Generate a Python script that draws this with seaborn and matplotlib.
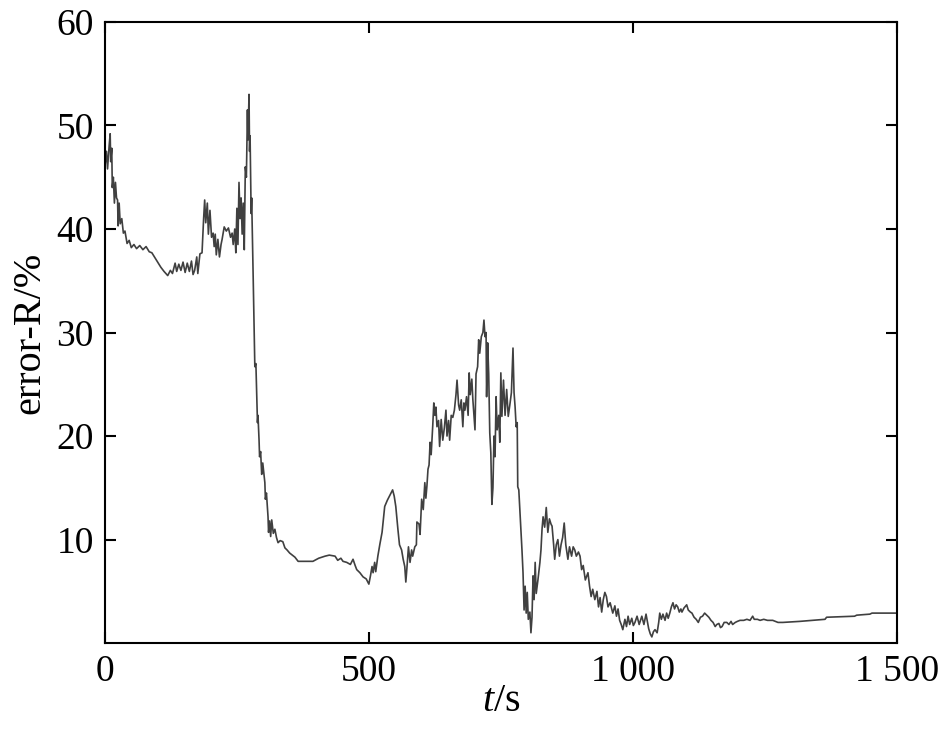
import matplotlib
matplotlib.use("Agg")
import matplotlib.pyplot as plt
import numpy as np
import pandas as pd
import seaborn as sns

# valores (t em s, erro em %)
t = [0, 3, 5, 8, 10, 11, 13, 14, 16, 18, 20, 22, 24, 25, 27, 29, 32, 35, 38, 42,
     46, 50, 55, 60, 66, 72, 78, 84, 89, 95, 100, 106, 112, 119, 124, 128, 133, 136, 140, 144,
     148, 152, 156, 160, 164, 167, 170, 174, 176, 180, 184, 187, 189, 191, 194, 196, 199, 202, 205, 207,
     209, 211, 214, 217, 220, 222, 226, 230, 234, 238, 241, 243, 246, 248, 250, 252, 254, 256, 258, 260,
     262, 264, 266, 268, 270, 271, 273, 274, 275, 277, 278, 279, 281, 284, 286, 288, 289, 290, 292, 293,
     295, 297, 299, 303, 304, 306, 309, 310, 312, 314, 316, 319, 322, 325, 328, 332, 337, 341, 345, 350,
     355, 360, 366, 380, 394, 405, 417, 425, 436, 441, 447, 451, 458, 465, 470, 474, 477, 483, 489, 495,
     500, 503, 506, 508, 511, 513, 517, 521, 525, 530, 535, 540, 545, 548, 551, 555, 558, 562, 565, 568,
     570, 572, 575, 578, 581, 583, 587, 590, 591, 595, 597, 600, 603, 606, 608, 610, 612, 614, 616, 618,
     621, 623, 625, 627, 629, 632, 634, 637, 640, 643, 646, 648, 651, 653, 656, 659, 662, 665, 667, 670,
     672, 675, 678, 680, 682, 685, 688, 690, 692, 695, 697, 699, 701, 703, 706, 708, 710, 713, 716, 718,
     720, 722, 723, 725, 727, 729, 731, 733, 735, 737, 739, 741, 743, 746, 748, 750, 752, 755, 758, 761,
     764, 767, 770, 773, 775, 777, 779, 781, 782, 784, 787, 790, 792, 794, 796, 798, 800, 802, 805, 807,
     809, 811, 813, 815, 817, 820, 824, 826, 828, 830, 833, 836, 839, 842, 845, 847, 850, 852, 855, 858,
     861, 864, 867, 870, 873, 877, 880, 884, 887, 890, 893, 897, 900, 903, 906, 910, 915, 918, 921, 924,
     928, 932, 935, 938, 941, 944, 947, 950, 953, 957, 962, 966, 969, 972, 975, 978, 981, 985, 988, 991,
     994, 998, 1001, 1004, 1008, 1012, 1017, 1021, 1025, 1030, 1033, 1036, 1039, 1042, 1046, 1049, 1051, 1054, 1057, 1061,
     1064, 1067, 1070, 1073, 1076, 1079, 1082, 1085, 1088, 1091, 1093, 1097, 1102, 1105, 1109, 1112, 1116, 1120, 1124, 1128,
     1132, 1136, 1140, 1144, 1148, 1152, 1156, 1159, 1163, 1166, 1169, 1173, 1178, 1182, 1186, 1189, 1194, 1198, 1203, 1210,
     1216, 1222, 1227, 1230, 1236, 1241, 1248, 1255, 1265, 1275, 1284, 1316, 1364, 1367, 1420, 1424, 1449, 1453, 1500]

erro = [46.0, 47.5, 45.8, 48.0, 49.2, 46.5, 47.8, 44.0, 45.0, 42.5, 44.5, 43.0, 42.8, 40.3, 42.5, 40.5, 41.0, 39.6, 39.8, 38.6,
        38.9, 38.2, 38.5, 38.1, 38.4, 38.0, 38.3, 37.8, 37.7, 37.2, 36.8, 36.3, 35.9, 35.5, 36.0, 35.7, 36.7, 35.9, 36.6, 36.0,
        36.8, 35.8, 36.7, 35.9, 36.9, 35.6, 36.0, 37.3, 35.7, 37.6, 37.7, 41.0, 42.8, 40.6, 42.5, 39.5, 41.8, 39.2, 39.6, 38.3,
        39.5, 37.5, 39.0, 37.3, 38.5, 39.0, 40.2, 39.8, 40.1, 39.2, 39.6, 38.5, 40.0, 37.7, 42.0, 38.5, 44.5, 41.0, 43.0, 39.5,
        42.5, 38.0, 46.0, 45.0, 51.5, 48.6, 53.0, 47.5, 49.0, 41.5, 43.0, 40.5, 35.0, 26.7, 27.0, 23.2, 21.3, 22.0, 19.6, 18.0,
        18.5, 16.3, 17.4, 15.5, 13.9, 14.5, 12.2, 10.7, 11.8, 10.3, 11.9, 10.6, 11.0, 10.2, 9.7, 9.9, 9.8, 9.2, 9.0, 8.7,
        8.5, 8.3, 7.9, 7.9, 7.9, 8.2, 8.4, 8.5, 8.4, 8.0, 8.2, 7.9, 7.8, 7.6, 8.1, 7.5, 7.1, 6.8, 6.4, 6.2,
        5.7, 6.5, 7.4, 6.8, 7.8, 6.9, 8.4, 9.6, 10.7, 13.2, 13.8, 14.3, 14.8, 14.2, 13.2, 11.0, 9.5, 9.0, 8.1, 7.4,
        5.9, 7.2, 9.3, 7.8, 9.0, 8.4, 9.3, 9.5, 11.7, 11.5, 10.5, 13.9, 12.9, 15.5, 14.0, 15.2, 16.8, 17.2, 19.4, 18.2,
        21.0, 23.2, 22.0, 22.8, 20.9, 21.5, 19.0, 21.6, 19.6, 20.8, 22.5, 20.0, 21.5, 19.6, 22.0, 21.8, 22.5, 24.0, 25.4, 23.0,
        22.5, 23.5, 20.9, 23.2, 22.5, 23.8, 22.0, 26.1, 24.0, 25.5, 23.5, 22.0, 20.6, 26.0, 26.7, 29.3, 28.0, 29.6, 30.0, 31.2,
        29.6, 30.0, 23.8, 29.0, 26.0, 20.3, 18.4, 13.4, 15.0, 20.0, 18.0, 23.8, 20.6, 22.0, 19.4, 26.1, 21.9, 25.4, 22.0, 24.5,
        21.9, 23.0, 24.2, 28.5, 24.2, 22.8, 20.9, 21.3, 15.1, 14.8, 11.9, 9.0, 6.8, 3.2, 5.5, 2.9, 4.9, 2.3, 3.0, 1.0,
        2.5, 6.5, 4.2, 7.8, 4.8, 6.0, 7.8, 9.0, 11.0, 12.2, 11.2, 13.1, 10.7, 12.0, 11.5, 11.3, 9.5, 8.1, 9.5, 10.0,
        8.4, 9.5, 10.2, 11.6, 9.5, 8.1, 9.3, 8.4, 9.3, 9.0, 8.4, 8.8, 8.4, 7.1, 7.5, 6.1, 6.8, 5.5, 4.5, 5.2,
        4.2, 5.0, 3.5, 4.4, 3.0, 4.2, 4.9, 4.5, 3.5, 3.9, 2.9, 3.6, 2.6, 3.3, 2.2, 1.8, 1.3, 2.3, 1.6, 2.6,
        1.8, 2.4, 1.7, 2.0, 2.6, 1.8, 2.6, 1.8, 2.8, 1.4, 0.9, 0.6, 1.1, 1.3, 1.0, 2.0, 2.9, 2.3, 2.8, 2.2,
        2.9, 2.4, 2.9, 3.5, 3.9, 3.3, 3.7, 3.5, 3.0, 3.3, 3.0, 3.4, 3.7, 3.2, 3.0, 2.9, 2.5, 2.3, 2.0, 2.5,
        2.6, 2.9, 2.7, 2.5, 2.2, 2.0, 1.6, 1.8, 1.9, 1.5, 1.6, 2.0, 2.0, 1.8, 2.1, 1.8, 2.0, 2.1, 2.2, 2.2,
        2.3, 2.2, 2.6, 2.3, 2.3, 2.2, 2.3, 2.2, 2.2, 2.0, 2.0, 2.1, 2.3, 2.5, 2.6, 2.7, 2.8, 2.9, 2.9]

xticks = [0, 500, 1000, 1500]
xticklabels = ["0", "500", "1 000", "1 500"]
yticks = [10, 20, 30, 40, 50, 60]

df = pd.DataFrame({"t": t, "erro": erro})

sns.set_style("ticks")
plt.rcParams["font.family"] = ["Liberation Serif", "DejaVu Serif"]
plt.rcParams["mathtext.fontset"] = "custom"
plt.rcParams["mathtext.it"] = "Liberation Serif:italic"
plt.rcParams["mathtext.rm"] = "Liberation Serif"
plt.rcParams["text.color"] = "black"
plt.rcParams["axes.labelcolor"] = "black"
plt.rcParams["xtick.color"] = "black"
plt.rcParams["ytick.color"] = "black"

fig = plt.figure(figsize=(9.45, 7.3), dpi=100)
ax = fig.add_axes([0.111, 0.119, 0.838, 0.851])

sns.lineplot(data=df, x="t", y="erro", ax=ax, color="#404040", linewidth=1.2,
             sort=False, estimator=None)

ax.set_xlim(0, 1500)
ax.set_ylim(0, 60)
ax.set_xticks(xticks)
ax.set_xticklabels(xticklabels)
ax.set_yticks(yticks)
ax.tick_params(direction="in", length=8, width=1.5, labelsize=27,
               top=True, right=True, pad=8)
for s in ax.spines.values():
    s.set_linewidth(1.5)
    s.set_color("black")

ax.set_xlabel("$t$/s", fontsize=29, labelpad=-4)
ax.set_ylabel("error-R/%", fontsize=29, labelpad=6)

plt.savefig("out.png", dpi=100)
